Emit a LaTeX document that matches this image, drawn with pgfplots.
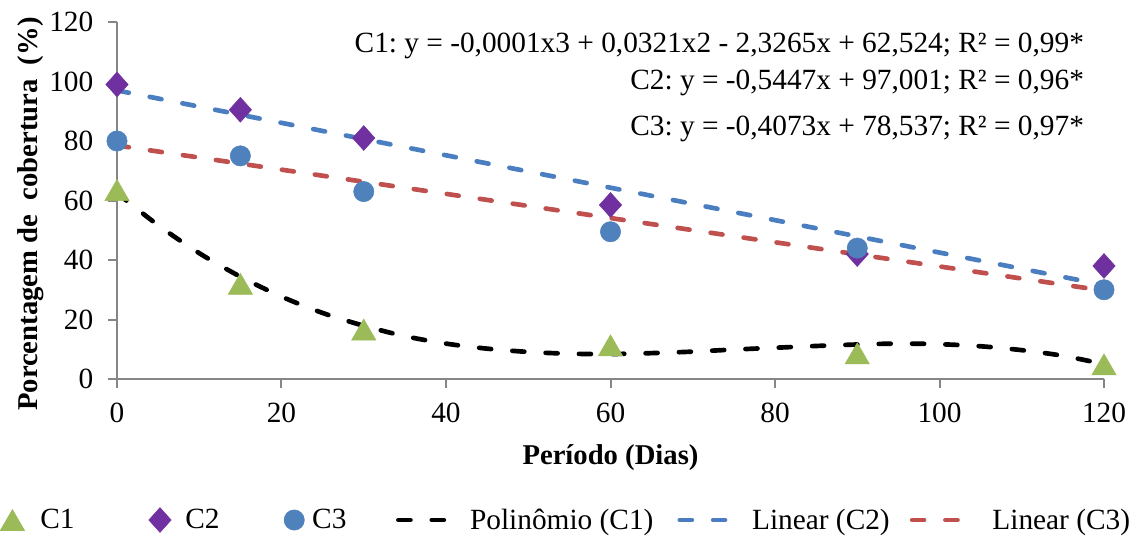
\documentclass[border=0pt]{standalone}
\usepackage{pgfplots}
\pgfplotsset{compat=1.18}
\usepackage{fontspec}
\setmainfont{Liberation Serif}
\frenchspacing
\definecolor{axgray}{RGB}{134,134,134}
\definecolor{cgreen}{RGB}{155,187,89}
\definecolor{cpurple}{RGB}{112,48,160}
\definecolor{cblue}{RGB}{79,129,189}
\definecolor{lblue}{RGB}{74,126,193}
\definecolor{lred}{RGB}{192,80,77}
\pgfplotsset{
  legA/.style={legend image code/.code={\path[draw=none,fill=none] (0pt,0pt) -- (30pt,0pt); \draw[##1] plot coordinates {(9pt,0pt)};}},
  legB/.style={legend image code/.code={\path[draw=none,fill=none] (0pt,0pt) -- (83pt,0pt); \draw[##1] plot coordinates {(64pt,0pt)};}},
  legC/.style={legend image code/.code={\path[draw=none,fill=none] (0pt,0pt) -- (69.5pt,0pt); \draw[##1] plot coordinates {(56pt,0pt)};}},
  legD/.style={legend image code/.code={\path[draw=none,fill=none] (0pt,0pt) -- (92.75pt,0pt); \draw[##1, dash pattern=on 9pt off 16pt] (39pt,0pt) -- (73pt,0pt);}},
  legE/.style={legend image code/.code={\path[draw=none,fill=none] (0pt,0pt) -- (74pt,0pt); \draw[##1, dash pattern=on 9pt off 16pt] (19.75pt,0pt) -- (53.75pt,0pt);}},
  legF/.style={legend image code/.code={\path[draw=none,fill=none] (0pt,0pt) -- (77pt,0pt); \draw[##1, dash pattern=on 9pt off 16pt] (16.75pt,0pt) -- (50.75pt,0pt);}},
}
\begin{document}
\begin{tikzpicture}[font=\fontsize{22}{26}\selectfont]
\useasboundingbox (-87.75pt,-117.75pt) rectangle (762pt,284.25pt);
\begin{axis}[
  scale only axis, width=740.25pt, height=267.75pt,
  xmin=0, xmax=120, ymin=0, ymax=120,
  xtick={0,20,...,120}, ytick={0,20,...,120},
  axis x line=bottom, axis y line=left,
  axis line style={-, draw=axgray, line width=1.5pt},
  tick style={draw=axgray, line width=1.5pt},
  tick align=outside, major tick length=6.75pt,
  /pgf/number format/assume math mode=true,
  xticklabel style={yshift=-8pt},
  yticklabel style={xshift=-7.5pt},
  xlabel={\textbf{Período (Dias)}},
  ylabel={\textbf{Porcentagem de\ \ cobertura\ \ (\%)}},
  label style={font=\fontsize{21.5}{26}\selectfont},
  xlabel style={at={(axis description cs:0.5,-0.221)}, anchor=center},
  ylabel style={at={(axis description cs:-0.0875,0.462)}, anchor=center},
  legend style={at={(-0.1185,-0.395)}, anchor=west, draw=none, fill=none,
    inner xsep=0pt, inner ysep=0pt, nodes={inner sep=0pt, text depth=0.15em},
    column sep=0pt},
  legend columns=6,
  clip=false,
]
\addplot[only marks, mark=triangle*, mark size=10.5pt, color=cgreen, mark options={yshift=-2.6pt}, legA]
  coordinates {(0,63.5) (15,32) (30,16.6) (60,11.3) (90,8.6) (120,4.9)};
\addlegendentry{C1}
\addplot[only marks, mark=diamond*, mark size=9.3pt, color=cpurple, mark options={xscale=1.2}, legB]
  coordinates {(0,99) (15,90.5) (30,81) (60,58.5) (90,42) (120,38)};
\addlegendentry{C2}
\addplot[only marks, mark=*, mark size=7.6pt, color=cblue, legC]
  coordinates {(0,80) (15,75) (30,63) (60,49.5) (90,44) (120,30)};
\addlegendentry{C3}
\addplot[black, line width=3.5pt, line cap=round, dash pattern=on 9pt off 16pt, smooth, no markers, legD]
  coordinates {(0,62.5) (5,51.7) (10,42.3) (15,34.4) (20,27.7) (25,22.2) (30,17.9) (35,14.4)
    (40,11.9) (45,10.2) (50,9.1) (55,8.5) (60,8.4) (65,8.7) (70,9.2) (75,9.9) (80,10.5)
    (85,11.1) (90,11.6) (95,11.9) (100,11.7) (105,11.0) (110,9.7) (115,7.8) (120,5.0)};
\addlegendentry{Polinômio (C1)}
\addplot[lblue, line width=3.5pt, line cap=round, dash pattern=on 9pt off 16pt, no markers, legE]
  coordinates {(0,97.0) (120,31.6)};
\addlegendentry{Linear (C2)}
\addplot[lred, line width=3.5pt, line cap=round, dash pattern=on 9pt off 16pt, no markers, legF]
  coordinates {(0,78.5) (120,29.7)};
\addlegendentry{Linear (C3)}
\node[anchor=base east, inner sep=0pt] at (axis cs:117.6,109.7) {C1: y = -0,0001x3 + 0,0321x2 - 2,3265x + 62,524; R² = 0,99*};
\node[anchor=base east, inner sep=0pt] at (axis cs:117.6,97.3) {C2: y = -0,5447x + 97,001; R² = 0,96*};
\node[anchor=base east, inner sep=0pt] at (axis cs:117.6,81.8) {C3: y = -0,4073x + 78,537; R² = 0,97*};
\end{axis}
\end{tikzpicture}
\end{document}
